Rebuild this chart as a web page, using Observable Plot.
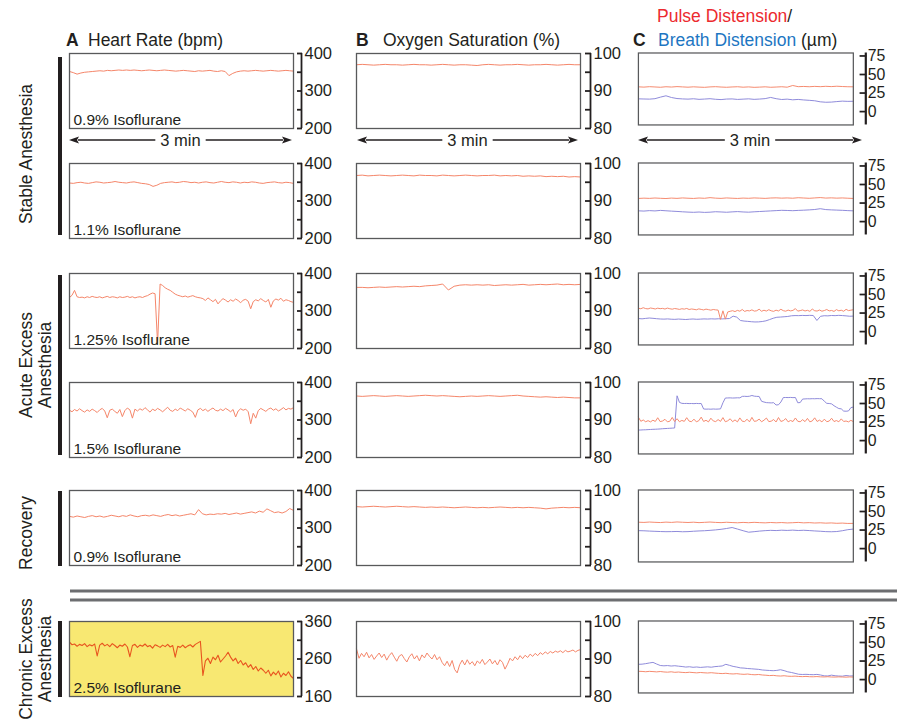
<!DOCTYPE html>
<html><head><meta charset="utf-8">
<script src="https://cdn.jsdelivr.net/npm/d3@7"></script>
<script src="https://cdn.jsdelivr.net/npm/@observablehq/plot@0.6"></script>
<style>
html,body{margin:0;padding:0;background:#fff;}
#fig{position:relative;width:897px;height:719px;overflow:hidden;font-family:"Liberation Sans",Arial,sans-serif;}
#fig .panel{position:absolute;}
#fig .overlay{position:absolute;left:0;top:0;pointer-events:none;}
</style></head><body><div id="fig"></div>
<script>
// ---------- DATA (each series spans 3 min) ----------
const rowLabels = ["0.9% Isoflurane","1.1% Isoflurane","1.25% Isoflurane","1.5% Isoflurane","0.9% Isoflurane","2.5% Isoflurane"];
const groupLabels = [["Stable Anesthesia"],["Acute Excess","Anesthesia"],["Recovery"],["Chronic Excess","Anesthesia"]];
const titleA = ["A","Heart Rate (bpm)"];
const titleB = ["B","Oxygen Saturation (%)"];
const titleC = ["C","Pulse Distension","/","Breath Distension"," (\u00b5m)"];
const durationLabel = "3 min";

const hrTicks = [200,250,300,350,400], hrLabels = [200,300,400];
const hrChronicTicks = [160,210,260,310,360], hrChronicLabels = [160,260,360];
const spo2Ticks = [80,85,90,95,100], spo2Labels = [80,90,100];
const distTicks = [0,25,50,75], distLabels = [0,25,50,75];

// Heart rate (bpm)
const hrStable09 = [352,349,345,348,350,351,352,353,354,353,355,354,355,356,355,356,355,356,355,354,355,356,355,354,355,356,355,354,353,354,355,354,353,352,354,353,354,355,353,352,354,352,341,347,351,353,354,353,354,355,354,353,354,355,354,353,354,355,354,353];
const hrStable11 = [348,347,349,350,348,347,349,351,350,348,349,350,352,350,349,348,350,351,349,347,346,344,339,342,347,349,350,351,349,350,352,351,349,350,348,350,351,349,348,350,352,350,349,351,350,348,350,349,351,350,348,347,349,350,351,349,348,350,349,347];
const hrAcute125 = [336,342,355,338,336,337,335,338,336,339,337,336,338,335,337,339,336,338,337,335,338,336,337,339,336,338,335,337,338,336,339,341,345,348,346,213,372,368,362,358,355,350,345,342,340,338,340,337,339,341,338,336,335,333,328,335,330,325,331,319,327,333,329,324,330,326,332,328,322,329,331,326,306,325,330,327,333,328,324,331,310,327,332,329,334,326,330,328,325,323];
const hrAcute15 = [326,322,328,324,330,325,321,327,323,329,325,320,327,331,324,306,326,329,323,318,328,309,325,332,327,305,329,324,330,326,333,327,321,329,325,331,327,322,328,334,326,323,329,325,332,328,324,330,326,321,307,327,331,325,329,323,328,332,326,324,329,325,331,327,322,328,308,324,330,326,329,322,290,318,305,325,331,327,323,329,332,326,330,324,328,333,327,331,329,333];
const hrRecovery09 = [331,329,332,330,328,331,333,330,332,329,331,334,332,330,333,331,335,332,330,333,334,332,335,333,331,334,336,333,335,332,334,336,338,335,349,338,335,337,336,338,337,339,336,338,340,337,339,341,343,340,345,342,351,346,341,343,340,344,352,347];
const hrChronic25 = [305,298,300,294,299,296,301,293,298,295,300,268,297,302,295,299,293,301,296,290,297,294,300,292,266,296,299,291,297,294,300,293,296,289,298,295,291,297,293,299,292,296,265,294,291,297,290,295,298,292,299,303,307,216,255,262,248,265,258,270,252,260,268,278,265,255,262,248,256,244,250,238,245,232,240,228,236,230,222,230,215,225,218,228,212,222,216,226,214,208];

// Oxygen saturation (%)
const spo2Stable09 = [97.0,97.1,97.0,96.9,97.0,97.1,97.0,97.0,96.9,97.0,97.1,97.0,97.0,96.9,97.0,97.1,97.0,96.9,97.0,97.0,96.9,96.8,97.0,97.1,97.0,96.9,97.0,97.0,97.1,97.0,96.9,97.0,97.0,97.1,97.0,96.9,97.0,97.1,97.0,97.0];
const spo2Stable11 = [96.8,96.9,96.7,96.8,96.9,96.8,96.7,96.8,96.9,96.8,96.7,96.9,96.8,96.8,96.7,96.9,96.8,96.7,96.8,96.9,96.8,96.7,96.8,96.8,96.9,96.7,96.8,96.7,96.8,96.6,96.7,96.6,96.7,96.5,96.6,96.5,96.6,96.4,96.5,96.4];
const spo2Acute125 = [96.3,96.3,96.2,96.3,96.4,96.3,96.4,96.5,96.4,96.5,96.6,96.5,96.7,96.8,96.9,97.2,95.6,96.6,96.9,97.0,96.9,97.0,96.9,97.0,96.8,96.9,97.0,96.9,97.0,97.1,96.9,97.0,97.1,97.0,97.1,97.2,97.0,97.1,97.0,97.1];
const spo2Acute15 = [96.4,96.3,96.4,96.5,96.4,96.3,96.4,96.5,96.4,96.3,96.4,96.5,96.6,96.5,96.4,96.5,96.4,96.3,96.2,96.3,96.4,96.3,96.4,96.5,96.4,96.3,96.4,96.5,96.6,96.4,96.3,96.2,96.1,96.2,96.1,96.0,96.1,96.0,95.9,95.9];
const spo2Recovery09 = [95.7,95.6,95.7,95.8,95.7,95.6,95.7,95.8,95.7,95.6,95.7,95.6,95.5,95.6,95.5,95.6,95.5,95.4,95.5,95.6,95.5,95.4,95.5,95.4,95.5,95.6,95.5,95.4,95.5,95.4,95.5,95.4,95.3,95.1,95.3,95.4,95.5,95.4,95.5,95.4];
const spo2Chronic25 = [92.7,90.2,91.5,90.6,91.8,90.3,91.2,89.9,90.8,91.6,90.4,91.3,89.7,90.9,91.7,90.5,89.4,90.8,91.2,90.1,89.2,90.6,91.4,90.0,90.9,89.5,91.1,90.3,91.6,90.7,90.0,91.2,89.8,90.6,89.1,88.2,89.4,88.0,89.6,87.2,86.3,88.5,89.7,88.4,89.8,88.6,89.3,88.2,89.5,88.8,89.9,88.5,89.2,90.0,88.7,89.6,88.4,89.8,89.1,87.3,88.6,90.2,89.5,90.6,89.8,90.9,90.1,91.0,90.4,91.3,90.7,91.5,90.9,91.7,91.2,91.9,91.4,92.0,91.6,92.1,91.8,92.2,91.7,92.3,91.9,92.1,92.4,91.9,92.3,92.5];

// Pulse distension (µm)
const pulseStable09 = [33.4,33.0,33.6,33.2,32.8,33.5,33.1,33.7,33.3,32.9,33.4,33.0,32.7,33.3,33.6,33.1,32.8,33.2,33.5,32.9,33.3,32.7,33.0,33.4,32.8,33.1,33.5,32.9,35.2,33.6,33.9,33.5,34.0,33.6,34.1,33.7,34.2,33.8,33.5,33.4];
const pulseStable11 = [31.2,31.6,31.3,31.8,31.4,31.1,31.7,31.3,31.9,31.5,31.2,31.8,31.4,32.3,31.6,31.3,31.9,31.5,31.2,31.7,31.4,31.9,31.6,31.3,31.8,32.0,31.6,31.9,31.5,32.2,31.8,31.4,31.9,32.4,31.7,32.0,31.6,31.9,31.5,31.2];
const pulseAcute125 = [31.5,30.8,32.2,31.0,30.6,31.8,31.2,30.5,31.6,30.9,31.3,30.4,31.7,30.8,30.2,31.1,30.6,29.9,30.8,30.3,31.2,29.8,30.5,30.0,29.4,30.6,29.9,29.2,30.3,29.6,28.9,29.8,29.3,29.0,16.5,28.0,16.8,26.5,27.4,28.2,27.0,28.6,27.5,29.8,27.2,28.4,27.9,29.3,27.6,28.1,30.2,27.4,28.8,27.7,29.5,28.0,27.3,28.9,27.8,30.1,28.2,27.5,29.0,27.9,28.6,31.0,27.6,28.3,29.2,27.8,28.7,27.3,30.4,28.1,27.7,29.1,27.5,28.4,29.8,27.9,28.5,27.2,29.6,28.0,28.8,27.4,30.0,28.3,28.9,29.5];
const pulseAcute15 = [31.5,26.0,27.8,25.4,26.9,25.2,27.5,25.8,30.8,25.6,26.4,28.7,25.3,26.1,31.2,25.7,29.5,25.4,27.2,25.9,30.9,26.2,25.5,28.9,25.3,26.8,31.6,25.8,27.4,25.2,30.2,26.5,25.6,28.3,25.9,31.0,25.4,26.7,29.4,25.5,27.9,25.2,30.6,26.1,25.7,28.8,25.3,31.3,25.9,26.6,29.0,25.4,27.5,30.4,25.6,26.2,28.4,25.1,31.1,25.8,26.9,29.7,25.3,27.1,25.7,30.5,26.0,25.4,28.2,25.6,29.9,25.3,26.5,30.7,25.8,27.6,25.2,28.9,25.5,26.3,30.1,25.7,27.0,25.4,29.3,25.8,26.4,25.2,27.3,25.6];
const pulseRecovery09 = [35.6,35.3,35.8,35.4,35.1,35.7,35.3,35.9,35.5,35.2,35.6,35.0,35.4,35.8,35.3,35.0,35.5,35.1,34.8,35.3,34.9,35.4,35.0,34.7,35.2,34.8,35.1,34.6,34.9,35.3,34.7,35.0,34.5,34.8,34.3,34.6,34.1,34.4,33.9,34.0];
const pulseChronic25 = [11.2,11.0,10.6,11.1,10.8,10.4,10.9,10.3,10.0,10.5,9.8,10.2,9.7,9.4,9.9,9.5,9.1,9.6,9.2,8.9,9.3,8.8,8.4,8.1,8.5,7.9,7.6,8.0,7.4,7.1,7.5,6.8,6.5,6.9,6.2,5.9,5.4,5.7,5.1,4.8,5.2,4.6,4.4,4.7,4.2,4.0,4.3,3.9,3.8,4.1,3.7,3.6,3.9,3.5,3.4,3.7,3.5,3.3,3.6,3.4];

// Breath distension (µm)
const breathStable09 = [17.2,17.0,16.8,17.4,19.5,21.3,19.0,17.6,17.1,16.8,17.3,16.5,16.9,17.4,16.6,16.2,16.9,17.1,16.4,16.8,17.2,16.5,16.9,17.5,19.1,17.4,16.3,16.8,15.9,16.4,15.7,15.2,14.6,13.2,12.6,12.8,13.5,14.1,13.8,13.9];
const breathStable11 = [14.5,14.2,14.8,14.4,15.1,14.6,14.1,13.7,13.2,12.8,12.5,12.9,12.4,12.7,13.3,13.0,12.6,13.1,13.5,13.0,12.7,13.2,13.6,14.0,14.4,14.8,15.2,15.0,14.7,15.1,15.4,15.8,16.3,17.4,16.2,15.8,15.5,15.2,14.8,14.5];
const breathAcute125 = [17.6,17.2,17.8,18.3,17.9,17.4,17.0,16.8,17.1,16.7,16.5,16.9,16.6,16.3,16.7,17.0,16.6,16.8,17.1,16.9,17.2,17.0,17.3,17.1,17.4,17.6,20.8,19.5,15.0,14.2,13.8,13.3,13.0,13.1,13.6,14.5,16.2,18.0,19.3,19.6,20.0,20.4,21.3,21.6,21.5,21.8,21.6,21.9,21.7,15.0,20.6,21.4,21.2,21.7,21.5,21.9,21.6,21.2,20.7,20.9];
const breathAcute15 = [14.2,14.3,14.5,14.6,14.8,15.0,15.2,15.3,15.5,15.7,16.0,16.2,16.4,16.6,16.8,17.0,60.4,51.5,50.2,50.0,50.1,49.9,50.0,49.8,50.1,49.9,50.0,42.6,42.4,42.5,42.3,42.6,42.4,42.5,42.8,51.0,57.4,57.5,57.6,57.4,57.5,57.7,57.6,59.6,59.7,59.5,59.8,60.8,59.9,59.6,59.5,53.0,52.0,51.2,51.0,50.8,51.1,48.0,48.3,52.0,58.0,58.1,58.0,58.2,57.9,58.1,51.0,51.3,56.0,56.2,56.4,56.3,56.5,56.4,56.6,56.5,56.4,53.0,50.2,50.0,49.5,47.0,45.0,43.2,42.8,39.8,39.6,40.0,44.5,45.2];
const breathRecovery09 = [24.2,24.0,23.6,23.3,23.0,22.8,22.9,23.1,22.7,22.9,23.4,23.8,24.1,24.6,25.2,26.0,27.1,28.4,26.3,24.1,22.1,22.8,23.6,24.2,24.6,24.3,24.8,24.5,24.9,24.4,24.7,24.3,23.8,23.4,22.9,22.7,23.0,24.1,25.5,26.3];
const breathChronic25 = [20.6,20.8,21.5,22.4,23.2,21.0,19.0,18.6,18.9,18.3,18.7,18.1,17.6,16.9,17.3,16.6,17.0,16.4,16.8,17.2,16.7,17.5,17.9,18.4,20.6,19.2,17.8,16.9,15.8,15.5,14.9,14.6,14.2,13.8,13.0,12.6,12.3,12.0,12.4,13.3,12.1,10.5,9.6,8.4,7.2,6.9,7.1,6.8,6.6,7.0,6.2,5.1,4.9,6.0,5.2,4.8,4.6,5.5,4.9,5.0];

// ---------- STYLE ----------
const FONT = '"Liberation Sans", Arial, Helvetica, sans-serif';
const INK = "#231f20";
const ORANGE = "#f5866a", ORANGE_DARK = "#e8541f", BLUE = "#8a86d8";
const RED_TXT = "#ec2a2f", BLUE_TXT = "#1d76c2";
const colLeft = [69, 356, 638], rowTop = [53, 163, 273, 382, 490, 621];
const FW = 224, FH = 75;
const axisStyle = [
  {dx: 3, size: 5, pad: 3, line: 8, lw: 1.8},
  {dx: 4, size: 6, pad: 3, line: 10, lw: 1.8},
  {dx: 6, size: 7, pad: 2, line: 13, lw: 2.3}
];

const fig = document.getElementById("fig");
const toRows = (vals) => vals.map((v, i) => ({t: i * 180 / (vals.length - 1), v}));

function panel(col, row, series, cfg) {
  const mL = 2, mR = 46, mT = 12, mB = 12;
  const a = axisStyle[col];
  const labelSet = new Set(cfg.labels);
  const marks = [];
  if (cfg.fill) marks.push(Plot.frame({fill: cfg.fill, stroke: null}));
  for (const s of series) {
    marks.push(Plot.line(toRows(s.values), {x: "t", y: "v", stroke: s.color, strokeWidth: s.width || 1}));
  }
  marks.push(Plot.frame({stroke: "#58595b", strokeWidth: 1.3}));
  marks.push(Plot.ruleX([180], {dx: a.line, stroke: INK, strokeWidth: a.lw}));
  marks.push(Plot.axisY(cfg.ticks, {
    anchor: "right", dx: a.dx, tickSize: a.size, tickPadding: a.pad,
    strokeWidth: 1.8, stroke: INK, fill: INK, fontSize: 16.5,
    tickFormat: d => labelSet.has(d) ? String(d) : "", label: null
  }));
  if (cfg.text) marks.push(Plot.text([cfg.text], {
    text: d => d, frameAnchor: "bottom-left", textAnchor: "start", lineAnchor: "bottom",
    dx: 4, dy: -4, fontSize: 15.5, fill: INK
  }));
  const svg = Plot.plot({
    width: FW + mL + mR, height: FH + mT + mB,
    marginLeft: mL, marginRight: mR, marginTop: mT, marginBottom: mB,
    x: {domain: [0, 180], axis: null},
    y: {domain: cfg.domain},
    style: {background: "transparent", fontFamily: FONT, fontSize: "16px", color: INK, overflow: "visible"},
    marks
  });
  const div = document.createElement("div");
  div.className = "panel";
  div.style.left = (colLeft[col] - mL) + "px";
  div.style.top = (rowTop[row] - mT) + "px";
  div.appendChild(svg);
  fig.appendChild(div);
}

const hrSeries = [hrStable09, hrStable11, hrAcute125, hrAcute15, hrRecovery09, hrChronic25];
const spo2Series = [spo2Stable09, spo2Stable11, spo2Acute125, spo2Acute15, spo2Recovery09, spo2Chronic25];
const pulseSeries = [pulseStable09, pulseStable11, pulseAcute125, pulseAcute15, pulseRecovery09, pulseChronic25];
const breathSeries = [breathStable09, breathStable11, breathAcute125, breathAcute15, breathRecovery09, breathChronic25];

for (let r = 0; r < 6; r++) {
  const chronic = r === 5;
  panel(0, r, [{values: hrSeries[r], color: chronic ? ORANGE_DARK : ORANGE, width: chronic ? 1.1 : 1}], {
    domain: chronic ? [160, 360] : [200, 400],
    ticks: chronic ? hrChronicTicks : hrTicks,
    labels: chronic ? hrChronicLabels : hrLabels,
    text: rowLabels[r], fill: chronic ? "#f8e872" : null
  });
  panel(1, r, [{values: spo2Series[r], color: ORANGE}], {domain: [80, 100], ticks: spo2Ticks, labels: spo2Labels});
  panel(2, r, [{values: breathSeries[r], color: BLUE}, {values: pulseSeries[r], color: ORANGE}],
    {domain: [-18, 79], ticks: distTicks, labels: distLabels});
}

// ---------- OVERLAY: titles, group labels, 3-min arrows, separators ----------
const svg = d3.select(fig).append("svg").attr("class", "overlay")
  .attr("width", 897).attr("height", 719)
  .style("font-family", FONT).attr("fill", INK);

function title(x, y, parts) {
  const t = svg.append("text").attr("x", x).attr("y", y).attr("font-size", 17.5);
  for (const p of parts) t.append("tspan").text(p.s).attr("fill", p.c || INK).attr("font-weight", p.b ? "bold" : null);
  return t;
}
title(66, 46, [{s: titleA[0], b: true}]);
title(88, 46, [{s: titleA[1]}]);
title(356, 46, [{s: titleB[0], b: true}]);
title(383, 46, [{s: titleB[1]}]);
title(633, 46, [{s: titleC[0], b: true}]);
title(657, 22, [{s: titleC[1], c: RED_TXT}, {s: titleC[2]}]);
title(658, 46, [{s: titleC[3], c: BLUE_TXT}, {s: titleC[4]}]);

const groups = [
  {y0: 57, y1: 235, cy: 154},
  {y0: 275, y1: 455, cy: 365},
  {y0: 491, y1: 566, cy: 533},
  {y0: 621, y1: 697, cy: 659}
];
groups.forEach((g, i) => {
  svg.append("rect").attr("x", 58).attr("y", g.y0).attr("width", 4).attr("height", g.y1 - g.y0).attr("fill", INK);
  groupLabels[i].forEach((line, k) => {
    svg.append("text").attr("transform", `translate(${32 + k * 19},${g.cy}) rotate(-90)`)
      .attr("text-anchor", "middle").attr("font-size", 17.5).text(line);
  });
});

[[69, 292], [357, 578], [638, 862]].forEach(([x0, x1]) => {
  const y = 140, cx = (x0 + x1) / 2;
  const tx = svg.append("text").attr("x", cx).attr("y", 146).attr("text-anchor", "middle")
    .attr("font-size", 16.5).text(durationLabel);
  const w = tx.node().getComputedTextLength();
  const g = 5, ah = 10;
  svg.append("line").attr("x1", x0 + ah - 1).attr("x2", cx - w / 2 - g).attr("y1", y).attr("y2", y).attr("stroke", INK).attr("stroke-width", 1.6);
  svg.append("line").attr("x1", cx + w / 2 + g).attr("x2", x1 - ah + 1).attr("y1", y).attr("y2", y).attr("stroke", INK).attr("stroke-width", 1.6);
  svg.append("path").attr("d", `M${x0},${y} L${x0 + ah},${y - 3.5} L${x0 + ah - 2},${y} L${x0 + ah},${y + 3.5} Z`).attr("fill", INK);
  svg.append("path").attr("d", `M${x1},${y} L${x1 - ah},${y - 3.5} L${x1 - ah + 2},${y} L${x1 - ah},${y + 3.5} Z`).attr("fill", INK);
});

[591, 600].forEach(y => svg.append("rect").attr("x", 70).attr("y", y - 1.5).attr("width", 827).attr("height", 3).attr("fill", "#6d6e71"));
</script>
</body></html>
